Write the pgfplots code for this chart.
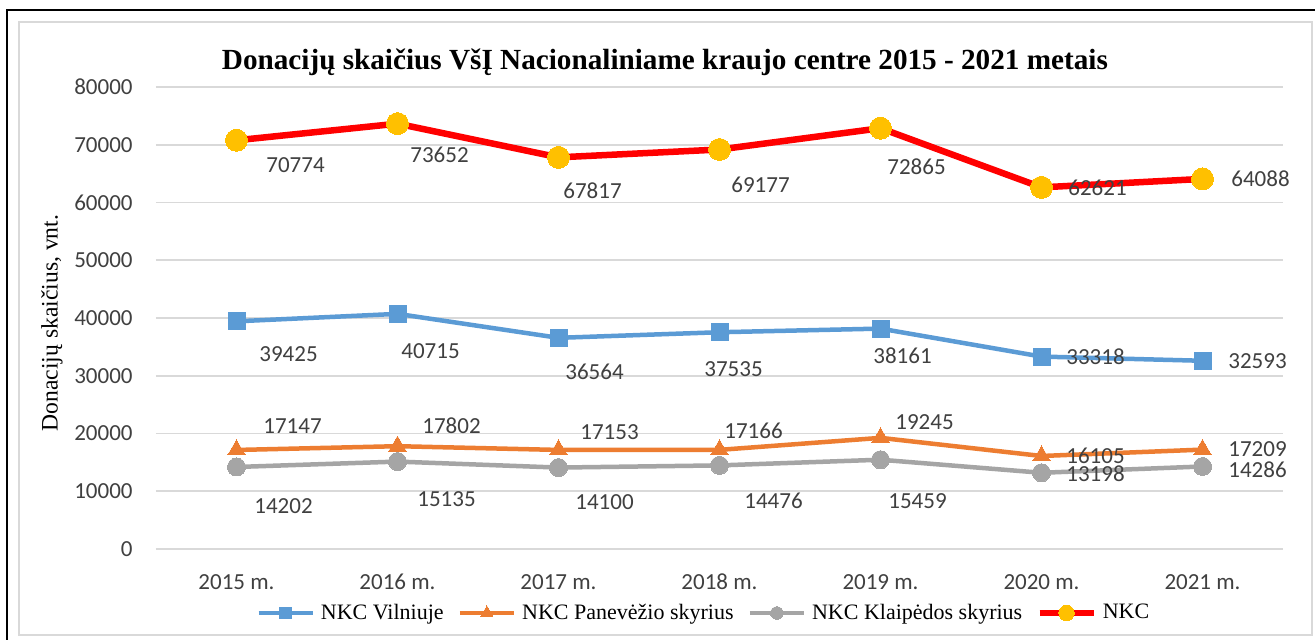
\documentclass[border=0pt]{standalone}
\usepackage{fontspec}
\setmainfont{Liberation Serif}
\newfontfamily\carlito{Carlito}
\newfontfamily\timesf{Liberation Serif}
\usepackage{pgfplots}
\usepackage{pgfplotstable}
\pgfplotsset{compat=1.18}
\definecolor{vilblue}{RGB}{91,155,213}
\definecolor{panorange}{RGB}{237,125,49}
\definecolor{klagray}{RGB}{165,165,165}
\definecolor{nkcred}{RGB}{255,0,0}
\definecolor{nkcyellow}{RGB}{255,192,0}
\definecolor{gridgray}{RGB}{217,217,217}
\definecolor{labgray}{RGB}{64,64,64}

% x = year index, y = donations, dx/dy = label offset (pt)
\pgfplotstableread{
x y dx dy
0 39425 26 -16.5
1 40715 16.5 -18.5
2 36564 18 -17
3 37535 7 -18.5
4 38161 11 -13.5
5 33318 27 0
6 32593 27.5 0
}\vilnius
\pgfplotstableread{
x y dx dy
0 17147 28 12
1 17802 27 10
2 17153 25.5 9
3 17166 17 9.5
4 19245 22 8
5 16105 27 0
6 17209 27.5 0
}\panevezys
\pgfplotstableread{
x y dx dy
0 14202 23.5 -19.5
1 15135 24.5 -19
2 14100 23 -17.5
3 14476 27 -17.5
4 15459 18.5 -20.5
5 13198 27 -0.5
6 14286 27.5 -1.5
}\klaipeda
\pgfplotstableread{
x y dx dy
0 70774 29.5 -12.5
1 73652 21 -15.5
2 67817 17 -16.5
3 69177 20.5 -17.5
4 72865 18 -19.5
5 62621 28 0
6 64088 29 0
}\nkc

\pgfplotsset{
    vallabels/.style={
        nodes near coords={\pgfmathprintnumber[fixed,precision=0,1000 sep={}]{\pgfplotspointmeta}},
        visualization depends on={\thisrow{dx}\as\dx},
        visualization depends on={\thisrow{dy}\as\dy},
        every node near coord/.style={anchor=center, xshift=\dx pt, yshift=\dy pt,
            font=\carlito\fontsize{11.5}{13}\selectfont, text=labgray},
    },
}

\begin{document}
\begin{tikzpicture}
\path[use as bounding box] (-78pt,-45.5pt) rectangle (579.5pt,274.5pt);
\fill[white] (-78pt,-45.5pt) rectangle (579.5pt,274.5pt);
\draw[gridgray, line width=1pt] (-68.5pt,-43pt) rectangle (578pt,263.5pt);
\draw[black, line width=1.4pt] (-74.5pt,-46pt) -- (-74.5pt,269.5pt) -- (580pt,269.5pt);
\begin{axis}[
    at={(0,0)}, anchor=south west,
    scale only axis,
    width=563.5pt, height=231pt,
    xmin=-0.5, xmax=6.5,
    ymin=0, ymax=80000,
    xtick={0,...,6},
    xticklabels={2015 m.,2016 m.,2017 m.,2018 m.,2019 m.,2020 m.,2021 m.},
    ytick={0,10000,...,80000},
    scaled y ticks=false,
    ymajorgrids=true,
    grid style={gridgray, line width=0.9pt},
    axis line style={draw=none},
    major tick length=0pt,
    clip=false,
    /pgf/number format/1000 sep={},
    /pgf/number format/assume math mode=true,
    tick label style={font=\carlito\fontsize{11.5}{13}\selectfont, text=labgray},
    yticklabel style={anchor=east, inner sep=0pt, xshift=-11.5pt},
    xticklabel style={anchor=center, yshift=-16.5pt},
    title={Donacijų skaičius VšĮ Nacionaliniame kraujo centre 2015 - 2021 metais},
    every axis title/.style={at={(axis description cs:0.4516,1.0368)}, anchor=base,
        font=\rmfamily\bfseries\fontsize{14.6}{17}\selectfont},
    ylabel={Donacijų skaičius, vnt.},
    every axis y label/.style={at={(axis description cs:-0.0923,0.489)}, rotate=90,
        anchor=center, font=\rmfamily\fontsize{11.8}{14}\selectfont},
    legend style={at={(axis description cs:0.487,-0.1385)}, anchor=center,
        legend columns=4, draw=none, fill=none,
        nodes={font=\timesf\fontsize{11}{13}\selectfont, text=black},
        /tikz/every even column/.append style={column sep=5pt},
        /tikz/every odd column/.append style={column sep=1pt}},
    legend image code/.code={
        \draw[mark repeat=2, mark phase=2, #1, every mark/.append style={scale=0.7}]
            plot coordinates {(0pt,0pt) (13.5pt,0pt) (27pt,0pt)};},
]
\addplot[vilblue, line width=2.25pt, mark=square*, mark size=4.25pt,
    mark options={fill=vilblue, draw=vilblue, line width=0pt}, vallabels] table[x=x, y=y] {\vilnius};
\addlegendentry{\timesf NKC Vilniuje}
\addplot[panorange, line width=2.25pt, mark=triangle*, mark size=5pt,
    mark options={fill=panorange, draw=panorange, line width=0pt}, vallabels] table[x=x, y=y] {\panevezys};
\addlegendentry{\timesf NKC Panevėžio skyrius}
\addplot[klagray, line width=2.25pt, mark=*, mark size=4.5pt,
    mark options={fill=klagray, draw=klagray, line width=0pt}, vallabels] table[x=x, y=y] {\klaipeda};
\addlegendentry{\timesf NKC Klaipėdos skyrius}
\addplot[nkcred, line width=3.25pt, mark=*, mark size=5.5pt,
    mark options={fill=nkcyellow, draw=nkcyellow, line width=0pt}, vallabels] table[x=x, y=y] {\nkc};
\addlegendentry{\timesf NKC}
\end{axis}
\end{tikzpicture}
\end{document}
